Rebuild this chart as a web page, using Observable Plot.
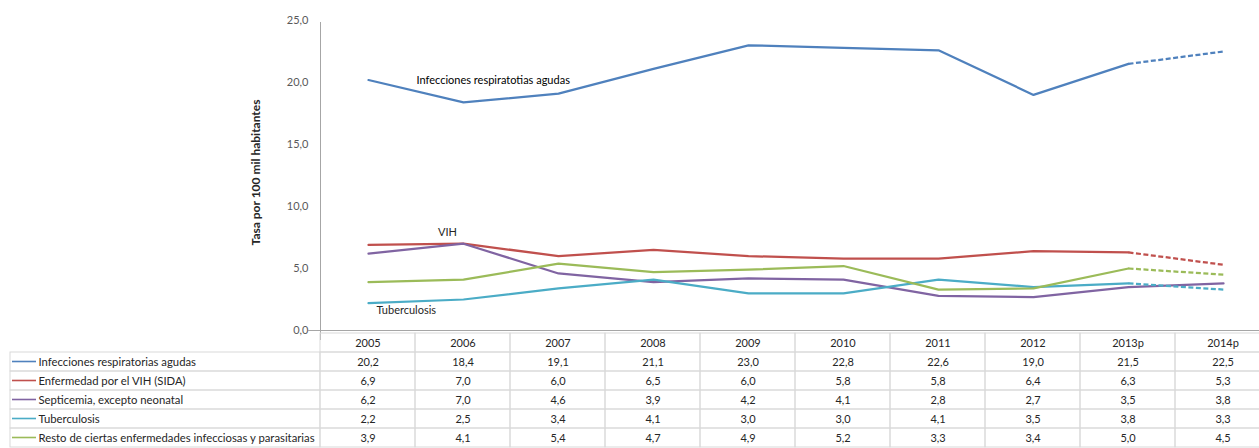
<!DOCTYPE html>
<html><head><meta charset="utf-8">
<script src="https://cdn.jsdelivr.net/npm/d3@7"></script>
<script src="https://cdn.jsdelivr.net/npm/@observablehq/plot@0.6"></script>
<style>
html,body{margin:0;padding:0;background:#fff;}
#chart{position:relative;width:1259px;height:448px;overflow:hidden;}
#chart svg{position:absolute;left:0;max-width:none;}
</style></head><body><div id="chart"></div>
<script>
// ---- data ----
const years = ["2005","2006","2007","2008","2009","2010","2011","2012","2013p","2014p"];
const seriesNames = [
  "Infecciones respiratorias agudas",
  "Enfermedad por el VIH (SIDA)",
  "Septicemia, excepto neonatal",
  "Tuberculosis",
  "Resto de ciertas enfermedades infecciosas y parasitarias"
];
const infecciones = [20.2, 18.4, 19.1, 21.1, 23.0, 22.8, 22.6, 19.0, 21.5, 22.5];
const vih         = [6.9, 7.0, 6.0, 6.5, 6.0, 5.8, 5.8, 6.4, 6.3, 5.3];
const septicemia  = [6.2, 7.0, 4.6, 3.9, 4.2, 4.1, 2.8, 2.7, 3.5, 3.8];
const tuberculosis= [2.2, 2.5, 3.4, 4.1, 3.0, 3.0, 4.1, 3.5, 3.8, 3.3];
const resto       = [3.9, 4.1, 5.4, 4.7, 4.9, 5.2, 3.3, 3.4, 5.0, 4.5];
const seriesValues = [infecciones, vih, septicemia, tuberculosis, resto];
const projectedYears = ["2013p", "2014p"];
const dashedProjectionSeries = [
  "Infecciones respiratorias agudas",
  "Enfermedad por el VIH (SIDA)",
  "Tuberculosis",
  "Resto de ciertas enfermedades infecciosas y parasitarias"
];
const yTicks = [0, 5, 10, 15, 20, 25];
const yTitle = "Tasa por 100 mil habitantes";
const annotationTexts = ["Infecciones respiratotias agudas", "VIH", "Tuberculosis"];
const annotationYears = ["2006", "2006", "2005"];
const annotationValues = [20.2, 7.9, 1.6];

// ---- styling ----
const colors = ["#4f81bd", "#c0504d", "#8064a2", "#4bacc6", "#9bbb59"];
const FONT = "Lato, 'Open Sans', sans-serif";
const GRID = "#d9d9d9";
const TEXT = "#262626";
const fmt = v => v.toFixed(1).replace(".", ",");

const rows = seriesNames.flatMap((s, i) => years.map((y, j) => ({series: s, year: y, value: seriesValues[i][j]})));
const lastActual = projectedYears[0];
const solid = rows.filter(d => !dashedProjectionSeries.includes(d.series) || years.indexOf(d.year) <= years.indexOf(lastActual));
const dashed = rows.filter(d => dashedProjectionSeries.includes(d.series) && projectedYears.includes(d.year));
const annotations = annotationTexts.map((t, i) => ({text: t, year: annotationYears[i], value: annotationValues[i]}));

const container = document.getElementById("chart");
const colorScale = {domain: seriesNames, range: colors};
const xRange = [320, 1270];

// ---- main chart ----
const main = Plot.plot({
  width: 1259, height: 340,
  marginTop: 20, marginBottom: 10, marginLeft: 320, marginRight: 0,
  style: {background: "transparent", fontFamily: FONT},
  x: {type: "point", domain: years, range: xRange, padding: 0.5, axis: null},
  y: {domain: [0, 25], range: [330, 20], axis: null},
  color: colorScale,
  marks: [
    Plot.axisY({ticks: yTicks, tickFormat: fmt, tickSize: 0, tickPadding: 12, label: null, fontSize: 11, fill: "#595959"}),
    (index, scales, values, dim) => {
      const g = d3.create("svg:g");
      g.append("line").attr("x1", dim.marginLeft + 0.5).attr("x2", dim.marginLeft + 0.5)
        .attr("y1", dim.marginTop + 2).attr("y2", dim.height).attr("stroke", "#a6a6a6");
      g.append("line").attr("x1", dim.marginLeft - 12).attr("x2", dim.width)
        .attr("y1", scales.y(0) + 0.5).attr("y2", scales.y(0) + 0.5).attr("stroke", "#a6a6a6");
      return g.node();
    },
    Plot.text([yTitle], {frameAnchor: "left", textAnchor: "middle", dx: -64, dy: -3, rotate: -90, text: d => d, fontSize: 12, fontWeight: "bold", fill: TEXT}),
    Plot.line(solid, {x: "year", y: "value", stroke: "series", strokeWidth: 2.25}),
    Plot.line(dashed, {x: "year", y: "value", stroke: "series", strokeWidth: 2.25, strokeDasharray: "5,2.5", strokeLinecap: "butt"}),
    Plot.text(annotations.slice(0, 1), {x: "year", y: "value", text: "text", textAnchor: "start", dx: -47, fontSize: 11, fill: "#000"}),
    Plot.text(annotations.slice(1, 2), {x: "year", y: "value", text: "text", dx: -16, fontSize: 11, fill: TEXT}),
    Plot.text(annotations.slice(2, 3), {x: "year", y: "value", text: "text", textAnchor: "start", dx: 8, fontSize: 11, fill: TEXT})
  ]
});
main.style.top = "0px";
container.appendChild(main);

// ---- data table ----
const rowKeys = ["", ...seriesNames];
const headerCells = years.map(y => ({year: y, row: ""}));
const tableCells = rows.map(d => ({year: d.year, row: d.series, value: d.value}));
const table = Plot.plot({
  width: 1259, height: 118,
  marginTop: 0, marginBottom: 0, marginLeft: 320, marginRight: 0,
  style: {background: "transparent", fontFamily: FONT},
  x: {type: "band", domain: years, range: xRange, padding: 0, axis: null},
  y: {type: "band", domain: rowKeys, range: [0, 119], padding: 0, axis: null},
  marks: [
    Plot.cell(headerCells, {x: "year", y: "row", fill: "none", stroke: GRID, inset: 0}),
    Plot.cell(tableCells, {x: "year", y: "row", fill: "none", stroke: GRID, inset: 0}),
    Plot.text(headerCells, {x: "year", y: "row", text: "year", fontSize: 11, fill: TEXT}),
    Plot.text(tableCells, {x: "year", y: "row", text: d => fmt(d.value), fontSize: 11, fill: TEXT})
  ]
});
table.style.top = "330px";
container.appendChild(table);

// ---- legend column ----
const legend = Plot.plot({
  width: 321, height: 118,
  marginTop: 0, marginBottom: 0, marginLeft: 10, marginRight: 1,
  style: {background: "transparent", fontFamily: FONT},
  x: {type: "band", domain: ["label"], padding: 0, axis: null},
  y: {type: "band", domain: rowKeys, range: [0, 119], padding: 0, axis: null},
  color: colorScale,
  marks: [
    Plot.cell(seriesNames, {x: () => "label", y: d => d, fill: "none", stroke: GRID, inset: 0}),
    Plot.cell(seriesNames, {x: () => "label", y: d => d, fill: d => d, insetTop: 8.7, insetBottom: 8.7, insetLeft: 2, insetRight: 284}),
    Plot.text(seriesNames, {y: d => d, text: d => d, frameAnchor: "left", textAnchor: "start", dx: 28, fontSize: 11.3, fill: TEXT})
  ]
});
legend.style.top = "330px";
container.appendChild(legend);
</script></body></html>
